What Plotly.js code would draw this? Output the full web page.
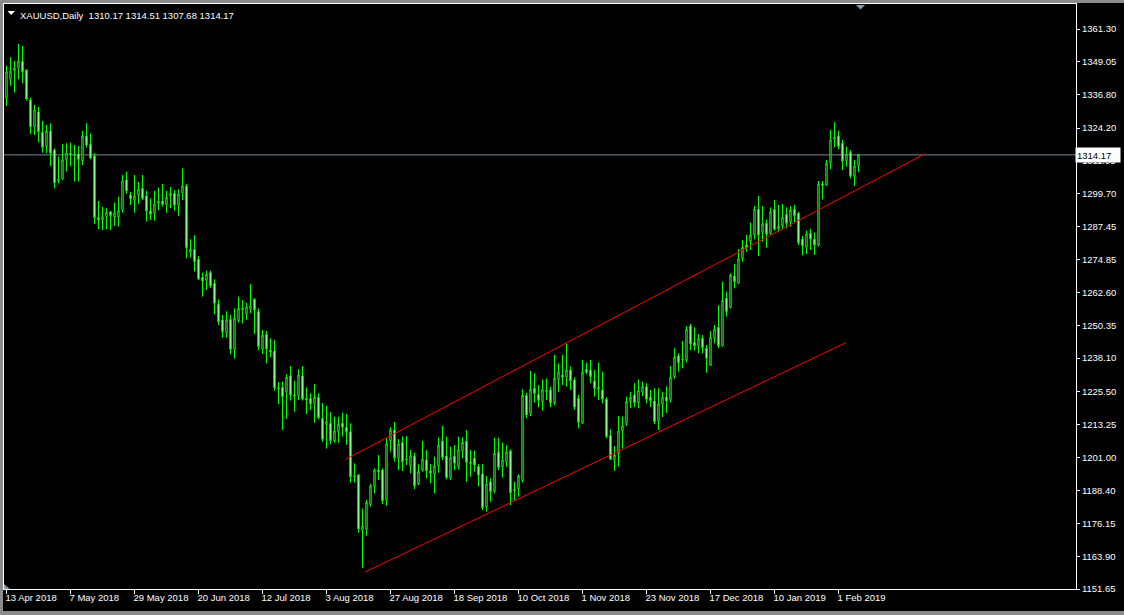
<!DOCTYPE html>
<html>
<head>
<meta charset="utf-8">
<script src="https://cdn.plot.ly/plotly-3.0.1.min.js"></script>
<style>
  html, body { margin: 0; padding: 0; background: #000; overflow: hidden; }
  #chart { width: 1124px; height: 615px; }
</style>
</head>
<body>
<div id="chart"></div>
<script>
// XAUUSD daily bars, 13 Apr 2018 .. 8 Feb 2019 (bar number on the x axis)
const symbol = 'XAUUSD';
const period = 'Daily';

const opens = [
  1335.4,1342.5,1345.8,1346.8,1349.2,1345.9,1334.7,1324.7,1330.2,1322.6,
  1317.3,1323.1,1316.0,1304.5,1305.3,1312.3,1314.8,1314.0,1314.5,1312.0,
  1321.2,1318.2,1313.8,1290.7,1289.9,1291.0,1292.9,1291.0,1291.0,1293.5,
  1304.8,1299.2,1297.3,1299.2,1301.6,1298.8,1293.2,1292.3,1296.0,1296.9,
  1295.7,1298.9,1299.8,1295.4,1299.8,1302.5,1277.6,1278.8,1275.1,1268.3,
  1267.3,1270.1,1266.1,1258.3,1252.4,1247.6,1252.6,1241.4,1252.1,1256.7,
  1254.5,1256.4,1260.1,1255.5,1241.5,1247.0,1241.0,1240.8,1227.0,1227.1,
  1225.5,1231.4,1224.3,1224.0,1231.4,1223.0,1223.0,1221.1,1223.4,1215.5,
  1213.3,1213.7,1207.2,1210.5,1213.7,1212.2,1210.5,1193.7,1194.3,1173.7,
  1174.0,1183.3,1190.0,1196.2,1196.2,1185.0,1207.2,1211.2,1200.6,1206.5,
  1199.9,1197.7,1201.4,1191.0,1196.2,1199.9,1195.9,1194.7,1197.7,1207.0,
  1201.4,1193.3,1201.4,1197.7,1203.4,1207.0,1199.1,1200.6,1197.5,1194.7,
  1182.5,1191.8,1188.3,1202.8,1197.4,1199.3,1203.3,1188.5,1189.2,1192.2,
  1224.1,1217.4,1226.8,1224.5,1221.8,1225.5,1226.2,1221.4,1230.1,1231.8,
  1231.0,1233.6,1229.9,1223.0,1213.7,1233.9,1233.6,1229.5,1226.4,1226.2,
  1222.7,1209.1,1200.2,1202.4,1210.9,1213.7,1221.8,1224.3,1221.4,1225.5,
  1227.4,1223.4,1222.0,1214.7,1220.9,1223.5,1222.5,1231.1,1238.9,1237.4,
  1237.4,1250.1,1244.0,1242.7,1245.5,1241.8,1235.5,1245.5,1249.6,1242.7,
  1260.5,1257.0,1268.8,1266.1,1275.4,1280.4,1281.9,1284.4,1293.8,1285.4,
  1288.6,1284.8,1293.8,1286.6,1287.7,1291.9,1289.2,1293.8,1292.3,1282.6,
  1279.6,1284.8,1282.6,1280.4,1303.3,1302.9,1311.3,1320.1,1321.2,1318.5,
  1311.9,1315.1,1306.3,1310.17
];
const highs = [
  1347.5,1350.7,1349.3,1355.7,1354.9,1346.2,1335.6,1332.9,1332.1,1326.9,
  1325.4,1326.0,1316.6,1313.5,1318.2,1318.5,1318.8,1317.9,1317.5,1323.1,
  1326.0,1322.2,1314.8,1296.9,1294.8,1294.2,1293.2,1296.3,1298.5,1306.6,
  1307.9,1300.3,1306.6,1304.1,1306.6,1300.7,1297.9,1300.7,1301.9,1303.3,
  1300.7,1302.1,1301.0,1301.3,1309.1,1303.3,1282.6,1284.1,1276.3,1270.1,
  1270.8,1270.8,1267.6,1260.1,1254.2,1255.6,1254.2,1256.7,1261.1,1259.8,
  1258.8,1265.8,1260.5,1256.7,1248.6,1248.2,1245.5,1244.9,1229.1,1229.3,
  1232.1,1235.1,1229.6,1233.9,1235.1,1227.1,1224.9,1228.4,1224.9,1221.2,
  1220.2,1217.9,1216.2,1216.2,1217.7,1217.2,1213.7,1198.7,1194.7,1181.8,
  1185.0,1191.0,1196.8,1201.8,1196.8,1208.1,1212.2,1214.2,1207.7,1208.7,
  1208.9,1203.7,1202.7,1198.4,1207.1,1203.7,1198.4,1201.2,1208.4,1212.7,
  1208.7,1204.9,1205.5,1208.7,1208.4,1211.2,1203.7,1203.4,1198.4,1198.4,
  1194.0,1193.1,1208.3,1208.3,1206.5,1205.5,1203.9,1191.8,1194.6,1226.4,
  1225.1,1233.3,1232.4,1228.0,1230.1,1230.5,1227.4,1239.3,1236.1,1239.3,
  1243.6,1234.9,1230.9,1224.3,1237.4,1236.4,1237.4,1233.6,1236.4,1233.0,
  1223.4,1211.4,1205.2,1216.4,1216.2,1223.7,1225.5,1228.7,1230.1,1229.3,
  1228.7,1226.2,1226.8,1226.8,1225.4,1227.5,1235.1,1241.8,1239.9,1244.5,
  1250.1,1250.9,1249.6,1247.1,1246.7,1243.0,1248.2,1250.5,1257.9,1266.7,
  1263.0,1269.8,1273.3,1278.9,1282.3,1284.2,1288.8,1295.0,1298.8,1295.0,
  1290.0,1294.5,1297.3,1295.4,1295.8,1294.5,1295.0,1295.4,1292.9,1283.8,
  1285.8,1286.4,1285.1,1304.4,1304.4,1312.3,1323.5,1326.4,1323.2,1319.8,
  1317.3,1316.0,1312.3,1314.51
];
const lows = [
  1332.5,1340.0,1337.5,1342.5,1341.0,1334.5,1322.0,1321.6,1318.9,1315.0,
  1314.8,1310.0,1301.6,1303.5,1304.8,1307.9,1310.0,1304.2,1304.2,1310.4,
  1316.9,1312.5,1288.3,1286.4,1286.0,1286.4,1286.0,1287.6,1287.3,1292.5,
  1299.7,1295.4,1292.5,1295.8,1297.3,1289.2,1289.8,1289.5,1293.5,1294.8,
  1292.5,1294.2,1293.3,1291.4,1297.3,1275.4,1275.8,1270.5,1267.3,1261.1,
  1263.6,1264.3,1254.5,1250.5,1245.7,1245.7,1239.5,1237.9,1251.4,1251.1,
  1252.4,1254.9,1247.1,1241.1,1239.6,1236.1,1238.4,1225.9,1220.9,1211.2,
  1215.3,1222.2,1218.0,1222.4,1222.2,1217.2,1218.7,1213.9,1215.2,1206.8,
  1204.2,1205.9,1206.4,1206.4,1208.7,1205.6,1191.5,1191.5,1172.7,1159.6,
  1171.6,1182.5,1187.5,1192.5,1183.5,1182.8,1203.1,1199.3,1196.2,1195.8,
  1198.1,1195.0,1189.1,1190.6,1195.6,1193.1,1191.2,1187.5,1195.2,1199.9,
  1192.7,1192.5,1196.2,1196.4,1200.6,1191.8,1193.7,1195.6,1190.0,1181.2,
  1180.6,1184.3,1187.5,1196.2,1193.3,1197.4,1183.1,1184.7,1186.2,1191.5,
  1215.5,1216.4,1221.4,1219.7,1218.4,1222.4,1219.7,1220.5,1225.5,1228.0,
  1227.4,1226.2,1218.7,1211.8,1213.4,1232.1,1228.7,1223.7,1222.4,1221.2,
  1208.1,1200.0,1195.9,1197.5,1204.3,1212.7,1219.3,1219.7,1219.3,1223.9,
  1221.2,1219.7,1213.4,1211.2,1216.0,1217.5,1221.5,1230.3,1233.0,1234.3,
  1236.5,1241.1,1240.9,1239.9,1239.9,1232.6,1235.1,1243.6,1241.8,1242.4,
  1253.6,1256.7,1264.2,1265.8,1274.2,1277.9,1278.6,1282.5,1276.3,1281.7,
  1279.4,1284.2,1285.8,1285.2,1286.4,1286.7,1287.3,1288.6,1280.4,1276.5,
  1277.1,1278.6,1276.7,1279.8,1297.5,1302.5,1308.8,1317.0,1316.3,1308.5,
  1309.8,1305.4,1302.5,1307.68
];
const closes = [
  1345.3,1345.5,1346.7,1349.2,1345.3,1335.1,1324.7,1331.0,1322.9,1317.0,
  1323.1,1314.8,1303.8,1305.0,1312.3,1314.8,1314.3,1314.5,1312.5,1321.2,
  1317.9,1313.0,1290.7,1289.8,1291.0,1292.7,1291.4,1292.5,1293.3,1304.4,
  1300.7,1297.7,1298.8,1301.3,1297.9,1293.2,1291.9,1295.8,1296.9,1295.7,
  1298.3,1299.8,1295.4,1299.5,1302.5,1279.4,1278.8,1274.2,1267.8,1267.0,
  1269.5,1265.1,1258.6,1251.7,1248.0,1252.4,1241.4,1253.0,1256.7,1256.3,
  1257.3,1257.6,1256.1,1242.4,1246.7,1241.5,1240.4,1227.0,1226.6,1223.6,
  1230.9,1224.3,1223.9,1231.8,1222.8,1222.5,1221.0,1223.4,1215.8,1207.7,
  1214.3,1207.2,1210.8,1213.3,1212.2,1210.5,1193.7,1194.1,1174.1,1175.3,
  1184.1,1190.2,1196.2,1195.5,1184.7,1205.9,1211.2,1200.8,1205.9,1199.3,
  1200.3,1201.4,1190.3,1195.6,1200.2,1195.9,1195.0,1197.7,1205.5,1200.9,
  1193.4,1200.8,1198.7,1203.7,1206.5,1199.1,1198.7,1198.1,1194.3,1182.1,
  1190.9,1188.1,1202.4,1197.2,1199.9,1202.8,1187.7,1189.0,1194.0,1224.1,
  1216.8,1226.4,1224.9,1222.4,1226.2,1226.2,1221.4,1230.5,1232.8,1230.9,
  1233.6,1229.6,1219.7,1214.1,1232.8,1232.8,1231.2,1226.8,1227.2,1222.7,
  1208.7,1200.2,1201.8,1210.8,1212.7,1221.8,1223.4,1221.4,1225.9,1227.4,
  1222.7,1222.2,1214.3,1220.9,1223.5,1222.0,1230.9,1238.4,1236.4,1237.6,
  1248.9,1243.4,1242.7,1245.5,1242.0,1238.0,1245.9,1248.9,1242.7,1259.6,
  1255.5,1269.2,1266.7,1275.2,1279.6,1279.4,1284.2,1293.8,1284.2,1288.3,
  1284.5,1292.9,1286.3,1287.6,1290.8,1288.6,1293.6,1291.4,1281.3,1280.2,
  1284.6,1282.6,1280.4,1303.3,1302.8,1311.0,1319.8,1320.7,1317.3,1311.9,
  1314.5,1306.3,1310.0,1314.17
];

// Date labels on the time scale and the bars they sit on
const dateLabels = ['13 Apr 2018','7 May 2018','29 May 2018','20 Jun 2018','12 Jul 2018',
  '3 Aug 2018','27 Aug 2018','18 Sep 2018','10 Oct 2018','1 Nov 2018','23 Nov 2018',
  '17 Dec 2018','10 Jan 2019','1 Feb 2019'];
const dateLabelBars = [0,16,32,48,64,80,96,112,128,144,160,176,192,208];

// Price scale labels
const priceTicks = [1361.30,1349.05,1336.80,1324.20,1311.95,1299.70,1287.45,1274.85,
  1262.60,1250.35,1238.10,1225.50,1213.25,1201.00,1188.40,1176.15,1163.90,1151.65];

// Trend channel lines (bar number, price)
const upperLineBars = [84.8, 229.5];
const upperLinePrices = [1200.2, 1314.5];
const lowerLineBars = [89.8, 209.75];
const lowerLinePrices = [1158.1, 1243.8];

const bars = opens.map((_, i) => i);
const last = closes.length - 1;
const bid = closes[last];

const LIME = '#00FF00';
const FRAME_GREY = '#8C8C8C';
const AXIS_FONT = { family: 'Tahoma, "Liberation Sans", Arial, sans-serif', size: 9.5, color: '#FFFFFF' };

const candles = {
  type: 'candlestick',
  x: bars, open: opens, high: highs, low: lows, close: closes,
  increasing: { line: { color: LIME, width: 1 }, fillcolor: '#000000' },
  decreasing: { line: { color: LIME, width: 1 }, fillcolor: '#FFFFFF' },
  whiskerwidth: 0,
  hoverinfo: 'skip'
};
const upperLine = {
  type: 'scatter', mode: 'lines', x: upperLineBars, y: upperLinePrices,
  line: { color: '#FF0000', width: 1 }, hoverinfo: 'skip'
};
const lowerLine = {
  type: 'scatter', mode: 'lines', x: lowerLineBars, y: lowerLinePrices,
  line: { color: '#FF0000', width: 1 }, hoverinfo: 'skip'
};

const nb = '\u00A0';
const headerText = symbol + ',' + period + nb + nb +
  [opens[last], highs[last], lows[last], closes[last]].map(v => v.toFixed(2)).join(nb);

// page pixel -> paper fraction (plot area spans x 4..1076, y 4..589)
const px = p => (p - 4) / 1072;
const py = p => (589 - p) / 585;

const layout = {
  width: 1124, height: 615,
  margin: { l: 4, r: 48, t: 4, b: 26, pad: 0 },
  paper_bgcolor: '#000000', plot_bgcolor: '#000000',
  showlegend: false, hovermode: false, dragmode: false,
  boxgap: 0.5,
  xaxis: {
    type: 'linear', range: [-0.625, 267.375], fixedrange: true,
    rangeslider: { visible: false },
    showgrid: false, zeroline: false,
    showline: true, linecolor: '#FFFFFF', linewidth: 1, mirror: true,
    tickmode: 'array', tickvals: dateLabelBars, ticktext: dateLabels,
    ticks: 'outside', ticklen: 4, tickcolor: '#FFFFFF', tickwidth: 1,
    ticklabelposition: 'outside right', ticklabelshift: -2,
    tickfont: AXIS_FONT
  },
  yaxis: {
    side: 'right', range: [1151.65, 1370.66], fixedrange: true,
    showgrid: false, zeroline: false,
    showline: true, linecolor: '#FFFFFF', linewidth: 1, mirror: true,
    tickmode: 'array', tickvals: priceTicks, ticktext: priceTicks.map(v => v.toFixed(2)),
    ticks: 'outside', ticklen: 3, tickcolor: '#FFFFFF', tickwidth: 1,
    tickfont: AXIS_FONT
  },
  shapes: [
    // window edges
    { type: 'rect', xref: 'paper', yref: 'paper', x0: px(0), x1: px(1124), y0: py(3), y1: py(0),
      fillcolor: FRAME_GREY, line: { width: 0 } },
    { type: 'rect', xref: 'paper', yref: 'paper', x0: px(0), x1: px(3), y0: py(615), y1: py(0),
      fillcolor: FRAME_GREY, line: { width: 0 } },
    { type: 'rect', xref: 'paper', yref: 'paper', x0: px(0), x1: px(1124), y0: py(615), y1: py(611),
      fillcolor: FRAME_GREY, line: { width: 0 } },
    // bid line
    { type: 'line', xref: 'paper', x0: 0, x1: 1, yref: 'y', y0: bid, y1: bid,
      line: { color: '#778899', width: 1 }, layer: 'below' },
    // small menu arrow before the symbol name
    { type: 'path', xref: 'paper', yref: 'paper', xsizemode: 'pixel', ysizemode: 'pixel',
      xanchor: 0, yanchor: 1, path: 'M 3.5,-7 L 11,-7 L 7.25,-11 Z',
      fillcolor: '#FFFFFF', line: { width: 0 } },
    // chart shift marker
    { type: 'path', xref: 'paper', yref: 'paper', xsizemode: 'pixel', ysizemode: 'pixel',
      xanchor: px(860.5), yanchor: 1, path: 'M -4.5,-1 L 4.5,-1 L 0,-5.5 Z',
      fillcolor: '#8A9AAA', line: { width: 0 } },
    // scroll marker at the lower left corner
    { type: 'path', xref: 'paper', yref: 'paper', xsizemode: 'pixel', ysizemode: 'pixel',
      xanchor: 0, yanchor: 0, path: 'M 0,0 L 0,5 L 6,0 Z',
      fillcolor: '#8A9AAA', line: { width: 0 } }
  ],
  annotations: [
    { xref: 'paper', yref: 'paper', x: 0, y: 1, xanchor: 'left', yanchor: 'top',
      xshift: 14, yshift: -4, showarrow: false, text: headerText,
      font: { family: AXIS_FONT.family, size: 9.5, color: '#FFFFFF' } },
    { xref: 'paper', yref: 'y', x: 1, y: bid, xanchor: 'left', yanchor: 'middle',
      xshift: -1, showarrow: false, text: bid.toFixed(2), align: 'left',
      bgcolor: '#FFFFFF', borderpad: 1, width: 42, height: 12,
      font: { family: AXIS_FONT.family, size: 9.5, color: '#000000' } }
  ]
};

Plotly.newPlot('chart', [upperLine, lowerLine, candles], layout, { staticPlot: true, displayModeBar: false });
</script>
</body>
</html>
